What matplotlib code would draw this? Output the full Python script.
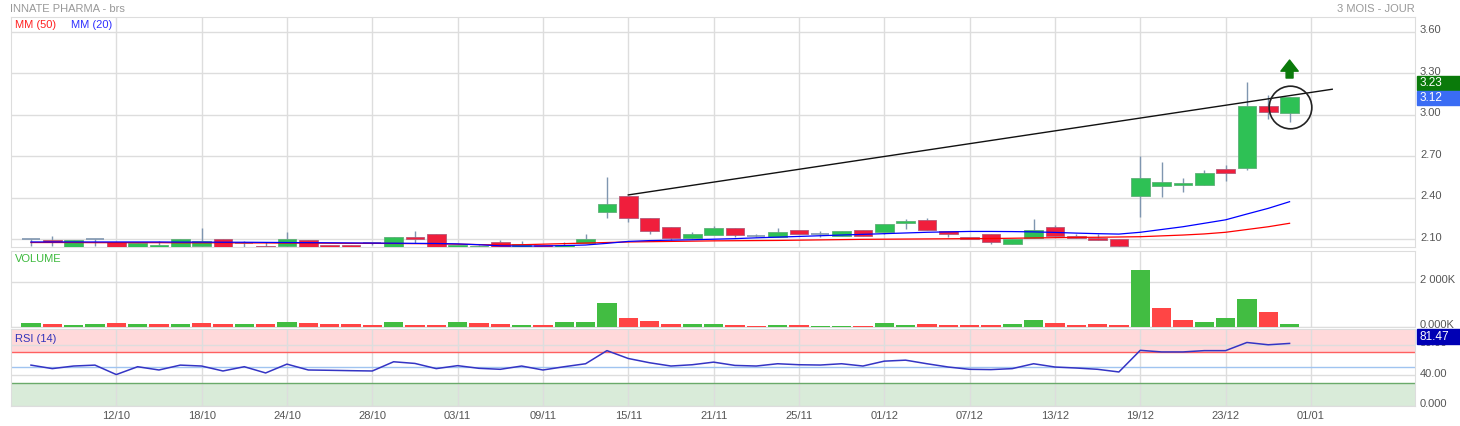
import numpy as np
import matplotlib.pyplot as plt
from matplotlib.patches import Rectangle
from matplotlib.transforms import blended_transform_factory, ScaledTranslation

plt.rcParams['font.family'] = ['Liberation Sans', 'DejaVu Sans']

# x axis labels (every 4 sessions)
date_pos = [4, 8, 12, 16, 20, 24, 28, 32, 36, 40, 44, 48, 52, 56, 60]
date_lbl = ['12/10', '18/10', '24/10', '28/10', '03/11', '09/11', '15/11', '21/11',
            '25/11', '01/12', '07/12', '13/12', '19/12', '23/12', '01/01']

# daily candles
opens = [2.100, 2.095, 2.035, 2.100, 2.080, 2.035, 2.045, 2.035, 2.052, 2.100,
         2.075, 2.050, 2.050, 2.095, 2.058, 2.058, 2.070, 2.035, 2.116, 2.135,
         2.045, 2.045, 2.080, 2.045, 2.058, 2.045, 2.075, 2.300, 2.410, 2.250,
         2.185, 2.110, 2.130, 2.180, 2.120, 2.115, 2.170, 2.135, 2.125, 2.165,
         2.150, 2.220, 2.237, 2.158, 2.113, 2.135, 2.068, 2.106, 2.186, 2.123,
         2.106, 2.100, 2.415, 2.487, 2.495, 2.495, 2.605, 2.617, 3.060, 3.010]
highs = [2.100, 2.120, 2.095, 2.100, 2.080, 2.075, 2.087, 2.100, 2.183, 2.100,
         2.085, 2.080, 2.150, 2.095, 2.060, 2.060, 2.075, 2.116, 2.160, 2.135,
         2.060, 2.055, 2.095, 2.085, 2.060, 2.080, 2.138, 2.550, 2.410, 2.250,
         2.185, 2.155, 2.195, 2.180, 2.138, 2.180, 2.170, 2.160, 2.157, 2.165,
         2.210, 2.245, 2.255, 2.158, 2.113, 2.135, 2.100, 2.246, 2.205, 2.140,
         2.137, 2.100, 2.700, 2.655, 2.540, 2.600, 2.635, 3.238, 3.142, 3.125]
lows = [2.050, 2.050, 2.030, 2.050, 2.030, 2.030, 2.040, 2.030, 2.040, 2.030,
        2.045, 2.040, 2.040, 2.030, 2.030, 2.030, 2.060, 2.030, 2.075, 2.030,
        2.040, 2.040, 2.040, 2.040, 2.040, 2.040, 2.070, 2.255, 2.227, 2.138,
        2.095, 2.100, 2.130, 2.118, 2.118, 2.115, 2.135, 2.118, 2.125, 2.125,
        2.135, 2.175, 2.170, 2.118, 2.100, 2.068, 2.068, 2.106, 2.120, 2.106,
        2.092, 2.045, 2.263, 2.407, 2.443, 2.495, 2.520, 2.600, 2.967, 2.950]
closes = [2.100, 2.080, 2.095, 2.100, 2.035, 2.075, 2.058, 2.100, 2.085, 2.035,
          2.075, 2.045, 2.100, 2.035, 2.045, 2.045, 2.070, 2.116, 2.104, 2.035,
          2.058, 2.050, 2.045, 2.065, 2.045, 2.058, 2.100, 2.355, 2.250, 2.160,
          2.110, 2.138, 2.180, 2.130, 2.120, 2.150, 2.135, 2.135, 2.157, 2.125,
          2.210, 2.232, 2.170, 2.135, 2.100, 2.080, 2.100, 2.164, 2.120, 2.106,
          2.092, 2.048, 2.545, 2.510, 2.505, 2.575, 2.575, 3.060, 3.022, 3.125]

mm20 = [2.080, 2.080, 2.080, 2.080, 2.080, 2.080, 2.080, 2.079, 2.079, 2.078,
        2.078, 2.077, 2.076, 2.075, 2.074, 2.073, 2.072, 2.071, 2.070, 2.069,
        2.066, 2.060, 2.052, 2.050, 2.051, 2.054, 2.058, 2.070, 2.084, 2.090,
        2.093, 2.096, 2.100, 2.104, 2.110, 2.115, 2.120, 2.125, 2.130, 2.135,
        2.140, 2.145, 2.150, 2.153, 2.156, 2.156, 2.155, 2.153, 2.149, 2.144,
        2.140, 2.137, 2.150, 2.170, 2.190, 2.215, 2.240, 2.282, 2.323, 2.371]
mm50 = [2.076, 2.076, 2.076, 2.075, 2.075, 2.075, 2.075, 2.074, 2.074, 2.074,
        2.073, 2.073, 2.072, 2.072, 2.071, 2.070, 2.070, 2.069, 2.068, 2.067,
        2.064, 2.061, 2.058, 2.060, 2.064, 2.068, 2.072, 2.076, 2.080, 2.082,
        2.084, 2.086, 2.088, 2.089, 2.090, 2.091, 2.093, 2.095, 2.097, 2.099,
        2.100, 2.101, 2.102, 2.103, 2.104, 2.105, 2.107, 2.109, 2.111, 2.113,
        2.114, 2.116, 2.118, 2.124, 2.130, 2.138, 2.150, 2.170, 2.190, 2.215]

# volume in K, 1 = up day, 0 = down day
volume = [164, 134, 61, 134, 164, 105, 105, 134, 164, 105,
          120, 105, 208, 149, 120, 120, 75, 208, 61, 75,
          193, 149, 134, 75, 75, 193, 208, 1052, 387, 253,
          120, 105, 105, 75, 46, 61, 75, 46, 46, 46,
          149, 90, 120, 75, 75, 75, 105, 312, 164, 61,
          105, 75, 2519, 816, 298, 193, 372, 1245, 639, 120]
vol_up = [1, 0, 1, 1, 0, 1, 0, 1, 0, 0,
          1, 0, 1, 0, 0, 0, 0, 1, 0, 0,
          1, 0, 0, 1, 0, 1, 1, 1, 0, 0,
          0, 1, 1, 0, 0, 1, 0, 1, 1, 0,
          1, 1, 0, 0, 0, 0, 1, 1, 0, 0,
          0, 0, 1, 0, 0, 1, 1, 1, 0, 1]

rsi = [53.0, 48.4, 51.8, 53.0, 40.6, 50.9, 46.6, 53.0, 51.8, 45.3,
       50.9, 42.7, 54.3, 46.6, 46.2, 45.7, 45.3, 57.4, 55.2, 48.4,
       52.3, 48.8, 47.5, 51.8, 46.6, 50.9, 54.8, 72.0, 61.7, 56.1,
       51.8, 53.5, 56.9, 52.6, 51.8, 54.8, 53.5, 53.1, 54.8, 51.8,
       58.2, 59.5, 54.8, 50.5, 47.5, 47.1, 48.4, 54.8, 50.5, 49.2,
       47.5, 44.0, 72.4, 70.3, 70.3, 72.0, 72.0, 82.7, 79.7, 81.47]

# drawn annotations
trend_x = [28, 61]
trend_y = [2.42, 3.184]
circle_pt = (59, 3.058)
arrow_x, arrow_y0, arrow_y1 = 59, 3.265, 3.395

tags = [(3.23, '3.23', '#0a7a0a'), (3.12, '3.12', '#3a6cf4')]
rsi_last = '81.47'

W, H = 1460, 426
fig = plt.figure(figsize=(W / 100, H / 100), dpi=100)


def px_axes(x0, y0, x1, y1):
    return fig.add_axes([x0 / W, 1 - y1 / H, (x1 - x0) / W, (y1 - y0) / H])


ax = px_axes(10.7, 17.3, 1415, 247)
axv = px_axes(10.7, 250.7, 1415, 326.7)
axr = px_axes(10.7, 329.3, 1415, 405.5)

grid_c = '#dddddd'
for a in (ax, axv, axr):
    a.set_xlim(-0.95, 64.88)
    a.set_xticks(date_pos)
    a.set_axisbelow(True)
    a.grid(color=grid_c, lw=1)
    for s in a.spines.values():
        s.set_color(grid_c)
    a.yaxis.tick_right()
    a.tick_params(length=0, labelsize=8, labelcolor='#555555', pad=3.6)
    a.set_xticklabels([])

x = np.arange(len(opens))
o, h, l, c = map(np.array, (opens, highs, lows, closes))

# candles
ax.vlines(x, l, h, color='#7f96b0', lw=1, zorder=2)
up = c > o
down = c < o
doji = ~(up | down)
ax.bar(x[up], (c - o)[up], bottom=o[up], width=0.87, color='#2ec155',
       edgecolor='#5fae78', lw=0.6, zorder=3)
ax.bar(x[down], (o - c)[down], bottom=c[down], width=0.87, color='#f01e3c',
       edgecolor='#b35a78', lw=0.6, zorder=3)
ax.hlines(c[doji], x[doji] - 0.43, x[doji] + 0.43, color='#7f96b0', lw=1.2, zorder=3)

ax.plot(x, mm50, color='#ff0000', lw=0.9, zorder=4)
ax.plot(x, mm20, color='#0000ff', lw=0.9, zorder=4)

ax.plot(trend_x, trend_y, color='#111111', lw=1, zorder=5)
ax.plot(*circle_pt, 'o', ms=30.7, mfc='none', mec='#222222', mew=1.2, zorder=5)
ax.annotate('', xy=(arrow_x, arrow_y1), xytext=(arrow_x, arrow_y0),
            arrowprops=dict(arrowstyle='simple,head_length=0.8,head_width=1.25,tail_width=0.5',
                            color='#0a7a0a', shrinkA=0, shrinkB=0), zorder=6)

ax.set_ylim(2.0436, 3.704)
ax.set_yticks([2.10, 2.40, 2.70, 3.00, 3.30, 3.60])
ax.set_yticklabels(['%.2f' % v for v in [2.10, 2.40, 2.70, 3.00, 3.30, 3.60]])

# price tags on the right
tf = blended_transform_factory(fig.transFigure, ax.transData)
per_px = (3.704 - 2.0436) / (247 - 17.3)
for val, txt, col in tags:
    ax.add_patch(Rectangle((1417 / W, val - 6.7 * per_px), 43 / W, 13.4 * per_px,
                           transform=tf, color=col, clip_on=False, zorder=10))
    ax.text(1420 / W, val, txt, transform=tf, color='white', fontsize=8.5,
            va='center', ha='left', zorder=11)

# volume
vol = np.array(volume)
vup = np.array(vol_up) == 1
axv.bar(x[vup], vol[vup], width=0.9, color='#42bd42', zorder=3)
axv.bar(x[~vup], vol[~vup], width=0.9, color='#ff4545', zorder=3)
axv.set_ylim(0, 3374)
axv.set_yticks([0, 2000])
axv.set_yticklabels(['0.000K', '2 000K'])

# rsi
axr.axhspan(70, 100, color='#ffd9da', zorder=0, lw=0)
axr.axhspan(0, 30, color='#d9ebd9', zorder=0, lw=0)
axr.axhline(70, color='#ff6060', lw=1, zorder=1)
axr.axhline(30, color='#6aaa6a', lw=1, zorder=1)
axr.axhline(50, color='#a0c4f0', lw=1, zorder=1)
axr.plot(x, rsi, color='#3434c4', lw=1.1, zorder=3)
axr.set_ylim(0, 100)
axr.set_yticks([0, 40, 80])
axr.set_yticklabels(['0.000', '40.00', '80.00'])
axr.set_xticklabels(date_lbl)
axr.tick_params(axis='x', pad=4)

# right-hand labels sit a little above their grid line
lift = ScaledTranslation(0, 0.025, fig.dpi_scale_trans)
for a in (ax, axv, axr):
    for t in a.get_yticklabels():
        t.set_transform(t.get_transform() + lift)

tfr = blended_transform_factory(fig.transFigure, axr.transAxes)
axr.add_patch(Rectangle((1417 / W, 1 - 14.5 / 76.2), 43 / W, 14.5 / 76.2,
                        transform=tfr, color='#0000b4', clip_on=False, zorder=10))
axr.text(1420 / W, 1 - 7.3 / 76.2, rsi_last, transform=tfr, color='white', fontsize=8.5,
         va='center', ha='left', zorder=11)

# labels
fig.text(10 / W, 1 - 9 / H, 'INNATE PHARMA - brs', color='#999999', fontsize=8, va='center')
fig.text(1415 / W, 1 - 9 / H, '3 MOIS - JOUR', color='#999999', fontsize=8, va='center', ha='right')
fig.text(15 / W, 1 - 25 / H, 'MM (50)', color='#ff2020', fontsize=8, va='center')
fig.text(71 / W, 1 - 25 / H, 'MM (20)', color='#3030ff', fontsize=8, va='center')
fig.text(15 / W, 1 - 259 / H, 'VOLUME', color='#3cb93c', fontsize=8, va='center')
fig.text(15 / W, 1 - 339 / H, 'RSI (14)', color='#3333bb', fontsize=8, va='center')

fig.savefig('out.png', dpi=100)
